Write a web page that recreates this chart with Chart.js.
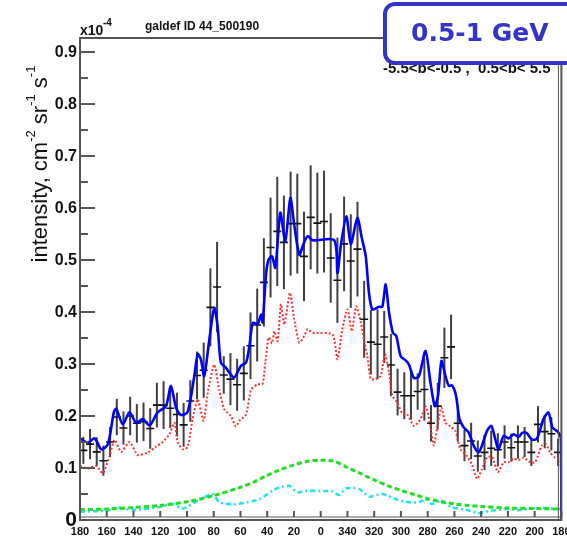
<!DOCTYPE html>
<html>
<head>
<meta charset="utf-8">
<script src="https://cdn.jsdelivr.net/npm/chart.js@4.4.1/dist/chart.umd.min.js"></script>
<style>
  html, body { margin: 0; padding: 0; background: #fff; }
  #wrap { position: relative; width: 567px; height: 541px; }
</style>
</head>
<body>
<div id="wrap"><canvas id="chart"></canvas></div>
<script>
// galactic longitude in degrees, 180 -> -180 (axis shows negative values as 360 + l)
const dataLon = [177.5, 172.5, 167.5, 162.5, 157.5, 152.5, 147.5, 142.5, 137.5, 132.5,
    127.5, 122.5, 117.5, 112.5, 107.5, 102.5, 97.5, 92.5, 87.5, 82.5,
    77.5, 72.5, 67.5, 62.5, 57.5, 52.5, 47.5, 42.5, 37.5, 32.5,
    27.5, 22.5, 17.5, 12.5, 7.5, 2.5, -2.5, -7.5, -12.5, -17.5,
    -22.5, -27.5, -32.5, -37.5, -42.5, -47.5, -52.5, -57.5, -62.5, -67.5,
    -72.5, -77.5, -82.5, -87.5, -92.5, -97.5, -102.5, -107.5, -112.5, -117.5,
    -122.5, -127.5, -132.5, -137.5, -142.5, -147.5, -152.5, -157.5, -162.5, -167.5,
    -172.5, -177.5];
// intensity, units of 1e-4 cm^-2 sr^-1 s^-1
const dataVal = [0.134, 0.146, 0.131, 0.114, 0.150, 0.198, 0.177, 0.200, 0.186, 0.189,
    0.176, 0.221, 0.221, 0.215, 0.203, 0.183, 0.229, 0.278, 0.288, 0.409,
    0.448, 0.279, 0.271, 0.260, 0.282, 0.335, 0.375, 0.457, 0.524, 0.555,
    0.534, 0.570, 0.570, 0.507, 0.582, 0.571, 0.574, 0.504, 0.461, 0.531,
    0.498, 0.521, 0.386, 0.342, 0.338, 0.352, 0.298, 0.246, 0.239, 0.239,
    0.247, 0.251, 0.186, 0.219, 0.312, 0.333, 0.186, 0.143, 0.152, 0.123,
    0.130, 0.138, 0.135, 0.150, 0.139, 0.150, 0.150, 0.130, 0.184, 0.170,
    0.166, 0.130];
const dataErr = [0.026, 0.029, 0.028, 0.029, 0.029, 0.035, 0.032, 0.037, 0.037, 0.037,
    0.039, 0.043, 0.046, 0.038, 0.042, 0.042, 0.040, 0.046, 0.053, 0.075,
    0.087, 0.036, 0.050, 0.050, 0.052, 0.064, 0.070, 0.085, 0.096, 0.105,
    0.090, 0.100, 0.096, 0.086, 0.100, 0.097, 0.098, 0.086, 0.082, 0.091,
    0.090, 0.091, 0.074, 0.062, 0.067, 0.050, 0.060, 0.045, 0.045, 0.046,
    0.035, 0.060, 0.035, 0.045, 0.058, 0.062, 0.035, 0.030, 0.035, 0.030,
    0.034, 0.034, 0.032, 0.032, 0.027, 0.032, 0.029, 0.026, 0.035, 0.032,
    0.032, 0.026];

// total model (blue)
const totalLon = [180, 174, 169, 164.1, 159.1, 154.7, 152.9, 148, 143, 138,
    133, 128, 121.9, 115.7, 112, 108.2, 104.5, 99.5, 94.5, 92,
    89.6, 87.1, 83.3, 79.6, 77.1, 74.7, 71, 64.7, 59.8, 55.8,
    53.3, 50.8, 47.1, 44.6, 43.4, 40.8, 38.9, 36.4, 33.9, 30.2,
    26.5, 22.7, 19.8, 16, 13, 9.8, 6.1, -10.1, -12.5, -15,
    -19.2, -22.5, -27.4, -30.7, -33.7, -36.1, -38.6, -43.6, -46.1, -48.6,
    -51.1, -54, -56.5, -59.8, -63.5, -66, -69.7, -73.4, -78.4, -82.1,
    -85.3, -87.8, -90.3, -93.3, -95.8, -98.2, -101.2, -103.8, -107, -110.7,
    -114.4, -118.1, -120.6, -124.3, -127.6, -130.6, -133, -136.8, -140.5, -144.2,
    -148, -150.9, -154.1, -157.9, -161.6, -166.6, -170.3, -173.3, -177.2, -179.6,
    -180];
const totalVal = [0.157, 0.149, 0.157, 0.136, 0.146, 0.207, 0.214, 0.184, 0.207, 0.187,
    0.194, 0.182, 0.207, 0.219, 0.258, 0.216, 0.202, 0.208, 0.277, 0.319,
    0.309, 0.277, 0.347, 0.408, 0.373, 0.303, 0.293, 0.274, 0.296, 0.303,
    0.335, 0.379, 0.377, 0.395, 0.380, 0.475, 0.501, 0.507, 0.485, 0.591,
    0.536, 0.619, 0.568, 0.510, 0.530, 0.546, 0.538, 0.538, 0.475, 0.527,
    0.584, 0.530, 0.581, 0.543, 0.507, 0.437, 0.405, 0.410, 0.410, 0.453,
    0.399, 0.360, 0.354, 0.315, 0.307, 0.299, 0.273, 0.276, 0.325, 0.264,
    0.219, 0.240, 0.306, 0.277, 0.258, 0.259, 0.239, 0.194, 0.178, 0.168,
    0.143, 0.130, 0.143, 0.171, 0.181, 0.155, 0.136, 0.162, 0.157, 0.165,
    0.160, 0.168, 0.167, 0.155, 0.156, 0.194, 0.207, 0.178, 0.170, 0.159,
    0];

// pi0-decay (red dotted)
const pionLon = [180, 174, 167.9, 162.9, 157.9, 154.1, 149.2, 143, 136.8, 129.3,
    123.1, 118.1, 113.1, 109.4, 107, 103.2, 99.5, 95.8, 92, 87.6,
    84.1, 79.6, 75.9, 72.1, 67.2, 63.5, 60.7, 55.8, 52, 47.1,
    43.4, 41.4, 38.9, 36.4, 34.7, 32.2, 29.7, 27.2, 23, 19.8,
    16, 12.3, 9.8, 6.1, -8.8, -12.5, -16.2, -20, -23.3, -26.5,
    -30, -32.4, -34.9, -37.4, -41.1, -44.9, -48.1, -51.1, -53.5, -57.2,
    -61, -64.7, -69.7, -74.7, -78.4, -81.4, -84.6, -87.8, -90.3, -93.3,
    -97, -100.8, -104.5, -109.4, -113.1, -116.9, -120.6, -124.3, -128, -132.5,
    -136.8, -140.5, -144.2, -148, -151.7, -156.7, -160.4, -165.3, -168.3, -171.6,
    -175.3, -179.3, -180];
const pionVal = [0.104, 0.099, 0.104, 0.090, 0.123, 0.154, 0.131, 0.150, 0.125, 0.130,
    0.141, 0.150, 0.165, 0.187, 0.150, 0.136, 0.140, 0.194, 0.232, 0.191,
    0.251, 0.299, 0.250, 0.213, 0.200, 0.180, 0.191, 0.203, 0.251, 0.261,
    0.262, 0.303, 0.351, 0.340, 0.363, 0.344, 0.415, 0.376, 0.437, 0.386,
    0.341, 0.354, 0.367, 0.360, 0.357, 0.309, 0.367, 0.405, 0.363, 0.411,
    0.380, 0.347, 0.315, 0.271, 0.271, 0.277, 0.319, 0.283, 0.239, 0.226,
    0.205, 0.203, 0.181, 0.194, 0.219, 0.190, 0.143, 0.190, 0.216, 0.187,
    0.180, 0.171, 0.136, 0.123, 0.107, 0.079, 0.098, 0.120, 0.122, 0.092,
    0.111, 0.111, 0.118, 0.115, 0.120, 0.111, 0.111, 0.143, 0.146, 0.130,
    0.120, 0.114, 0];

// inverse Compton (green dashed)
const icLon = [180, 160, 140, 120, 100, 80, 60, 50, 40, 30,
    20, 10, 0, -10, -20, -30, -40, -50, -60, -70,
    -80, -90, -100, -110, -120, -140, -160, -180];
const icVal = [0.020, 0.021, 0.024, 0.028, 0.035, 0.047, 0.063, 0.073, 0.086, 0.097,
    0.106, 0.113, 0.115, 0.113, 0.101, 0.089, 0.077, 0.066, 0.057, 0.049,
    0.041, 0.035, 0.031, 0.028, 0.026, 0.023, 0.022, 0.021];

// bremsstrahlung (cyan dash-dot)
const bremsLon = [180, 159.9, 152.4, 140.5, 120.4, 110.7, 103.2, 90.6, 80.9, 75.7,
    66, 55.5, 45.8, 36.2, 30.9, 23.5, 17.5, 11, 1.1, -8.6,
    -13.8, -19, -28.7, -36.1, -46.1, -56.3, -66, -73.4, -78.6, -83.1,
    -90.6, -98, -108.4, -118.1, -125.6, -138.3, -148, -157.6, -168.1, -177.8,
    -180];
const bremsVal = [0.016, 0.018, 0.024, 0.019, 0.025, 0.031, 0.022, 0.039, 0.050, 0.034,
    0.030, 0.034, 0.040, 0.056, 0.063, 0.066, 0.053, 0.056, 0.056, 0.055,
    0.048, 0.061, 0.060, 0.045, 0.050, 0.040, 0.034, 0.034, 0.040, 0.031,
    0.037, 0.024, 0.020, 0.013, 0.017, 0.021, 0.019, 0.022, 0.023, 0.021,
    0.021];

const xTicks = [180, 160, 140, 120, 100, 80, 60, 40, 20, 0, -20, -40, -60, -80, -100, -120, -140, -160, -180];
const yTicks = [0, 0.1, 0.2, 0.3, 0.4, 0.5, 0.6, 0.7, 0.8, 0.9];

const toPoints = (xs, ys) => xs.map((x, i) => ({ x: x, y: ys[i] }));
const lonLabel = l => String(l < 0 ? l + 360 : l);

function line(ctx, x1, y1, x2, y2) {
    ctx.beginPath();
    ctx.moveTo(x1, y1);
    ctx.lineTo(x2, y2);
    ctx.stroke();
}

const decorations = {
    id: 'decorations',
    beforeDatasetsDraw(chart) {
        const ctx = chart.ctx;
        const xs = chart.scales.x;
        const ys = chart.scales.y;
        ctx.save();
        ctx.strokeStyle = '#404040';
        ctx.lineWidth = 2;
        dataLon.forEach((l, i) => {
            const px = xs.getPixelForValue(l);
            const top = Math.min(dataVal[i] + dataErr[i], ys.max);
            line(ctx, px, ys.getPixelForValue(dataVal[i] - dataErr[i]), px, ys.getPixelForValue(top));
        });
        ctx.restore();
    },
    afterDraw(chart) {
        const ctx = chart.ctx;
        const a = chart.chartArea;
        const xs = chart.scales.x;
        const ys = chart.scales.y;
        ctx.save();

        // frame
        ctx.strokeStyle = '#555';
        ctx.lineWidth = 2;
        ctx.strokeRect(a.left, a.top, a.right - a.left, a.bottom - a.top);
        ctx.lineWidth = 1;
        line(ctx, a.left, a.bottom - 3, a.right, a.bottom - 3);
        line(ctx, a.right - 3, a.top, a.right - 3, a.bottom);

        // y ticks, major every 0.1 and minor in between
        ctx.strokeStyle = '#555';
        ctx.lineWidth = 2;
        yTicks.forEach(v => {
            const py = ys.getPixelForValue(v);
            line(ctx, a.left, py, a.left + 15, py);
            if (v + 0.05 < ys.max) {
                const pm = ys.getPixelForValue(v + 0.05);
                line(ctx, a.left, pm, a.left + 8, pm);
            }
        });
        ctx.fillStyle = '#111';
        ctx.textAlign = 'right';
        ctx.textBaseline = 'middle';
        yTicks.forEach(v => {
            ctx.font = v === 0 ? 'bold 21px "Liberation Sans"' : 'bold 16px "Liberation Sans"';
            ctx.fillText(v === 0 ? '0' : v.toFixed(1), a.left - 3, ys.getPixelForValue(v) + (v === 0 ? 0 : 1));
        });

        // x ticks
        ctx.font = 'bold 11px "Liberation Sans"';
        ctx.textAlign = 'center';
        ctx.textBaseline = 'top';
        xTicks.forEach(l => {
            const px = xs.getPixelForValue(l);
            line(ctx, px, a.bottom - 3, px, a.bottom - 9);
            ctx.fillText(lonLabel(l), px, a.bottom + 6);
        });

        // axis title with superscripts
        const parts = [['intensity, cm', false], ['-2', true], [' sr', false], ['-1', true], [' s', false], ['-1', true]];
        const mainFont = '22px "Liberation Sans"';
        const supFont = '13px "Liberation Sans"';
        let total = 0;
        parts.forEach(p => {
            ctx.font = p[1] ? supFont : mainFont;
            total += ctx.measureText(p[0]).width;
        });
        ctx.translate(47, 164);
        ctx.rotate(-Math.PI / 2);
        ctx.textAlign = 'left';
        ctx.textBaseline = 'alphabetic';
        let cx = -total / 2;
        parts.forEach(p => {
            ctx.font = p[1] ? supFont : mainFont;
            ctx.fillText(p[0], cx, p[1] ? -12 : 0);
            cx += ctx.measureText(p[0]).width;
        });
        ctx.setTransform(1, 0, 0, 1, 0, 0);

        // exponent and title
        ctx.fillStyle = '#111';
        ctx.font = 'bold 14px "Liberation Sans"';
        ctx.fillText('x10', 80, 35);
        ctx.font = 'bold 10px "Liberation Sans"';
        ctx.fillText('-4', 103, 26);
        ctx.font = 'bold 12px "Liberation Sans"';
        ctx.fillText('galdef ID 44_500190', 145, 30);

        // latitude range, partly hidden behind the energy box
        ctx.font = 'bold 15px "Liberation Sans"';
        ctx.fillText('-5.5<b<-0.5 ,  0.5<b< 5.5', 383, 73);

        // energy box
        ctx.beginPath();
        ctx.roundRect(385, 4, 200, 59, 10);
        ctx.fillStyle = '#fff';
        ctx.fill();
        ctx.strokeStyle = '#3434c8';
        ctx.lineWidth = 4;
        ctx.stroke();
        ctx.fillStyle = '#3434c8';
        ctx.font = 'bold 25px "DejaVu Sans"';
        ctx.textBaseline = 'middle';
        ctx.fillText('0.5-1 GeV', 411, 34);

        ctx.restore();
    }
};

new Chart(document.getElementById('chart'), {
    type: 'scatter',
    data: {
        datasets: [{
            label: 'total',
            data: toPoints(totalLon, totalVal),
            showLine: true,
            borderColor: '#0000ff',
            borderWidth: 2.6,
            pointRadius: 0,
            tension: 0.25
        }, {
            label: 'data',
            data: toPoints(dataLon, dataVal),
            showLine: false,
            pointStyle: 'line',
            pointRadius: 4,
            pointBorderWidth: 1.6,
            borderColor: '#111',
            backgroundColor: '#111'
        }, {
            label: 'pi0',
            data: toPoints(pionLon, pionVal),
            showLine: true,
            borderColor: '#ff3030',
            borderWidth: 2,
            borderDash: [2, 2],
            pointRadius: 0,
            tension: 0.2
        }, {
            label: 'IC',
            data: toPoints(icLon, icVal),
            showLine: true,
            borderColor: '#22dd22',
            borderWidth: 3,
            borderDash: [5, 3],
            pointRadius: 0,
            tension: 0.3
        }, {
            label: 'bremss',
            data: toPoints(bremsLon, bremsVal),
            showLine: true,
            borderColor: '#22e0f0',
            borderWidth: 2.5,
            borderDash: [5, 3, 2, 3],
            pointRadius: 0,
            tension: 0.2
        }]
    },
    options: {
        responsive: true,
        maintainAspectRatio: false,
        animation: false,
        layout: { padding: { left: 80, right: 5, top: 38, bottom: 21 } },
        plugins: {
            legend: { display: false },
            tooltip: { enabled: false }
        },
        scales: {
            x: { type: 'linear', display: false, reverse: true, min: -180, max: 180 },
            y: { type: 'linear', display: false, min: 0, max: 0.927 }
        }
    },
    plugins: [decorations]
});
</script>
</body>
</html>
